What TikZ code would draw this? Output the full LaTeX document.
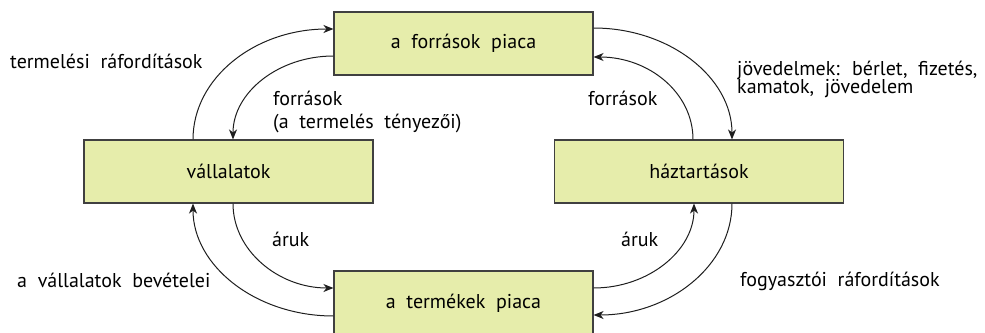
\documentclass[tikz,border=0pt]{standalone}
\usepackage{fontspec}
\setmainfont{PT Sans}[WordSpace=2.0]
\usetikzlibrary{arrows.meta}
\definecolor{boxfill}{HTML}{E6EDAB}
\definecolor{boxline}{HTML}{404040}
\definecolor{arrowcol}{HTML}{1E1E1E}
\tikzset{
  market/.style={draw=boxline, line width=1.1pt, fill=boxfill, minimum width=259pt, minimum height=63pt, inner sep=0pt, font=\fontsize{20}{23}\selectfont},
  agent/.style={draw=boxline, line width=1.1pt, fill=boxfill, minimum width=289pt, minimum height=63pt, inner sep=0pt, font=\fontsize{20}{23}\selectfont},
  flow/.style={draw=arrowcol, line width=1pt, -{Stealth[length=10pt,width=8pt,inset=3pt]}},
  lbl/.style={inner sep=0pt, anchor=base west, font=\fontsize{20}{23}\selectfont},
  lbltwo/.style={inner sep=0pt, anchor=base west, align=left}
}
\begin{document}
\begin{tikzpicture}[x=1pt,y=-1pt]
\useasboundingbox (0,0) rectangle (985,332);
\node[market] (T) at (463.5,43.5) {a források piaca};
\node[market, minimum height=65pt] (B) at (463.5,303.5) {a termékek piaca};
\node[agent] (L) at (228.5,171.5) {vállalatok};
\node[agent] (R) at (699,171.5) {háztartások};
% top-left
\draw[flow] ([xshift=-35.5pt]L.north) .. controls +(0,-62) and +(-78,0) .. ([yshift=14.5pt]T.west);
\draw[flow] ([yshift=-12.5pt]T.west) .. controls +(-55,0) and +(0,-47) .. ([xshift=4.5pt]L.north);
% top-right
\draw[flow] ([yshift=15.5pt]T.east) .. controls +(76,0) and +(0,-62) .. ([xshift=33pt]R.north);
\draw[flow] ([xshift=-6pt]R.north) .. controls +(0,-47) and +(55,0) .. ([yshift=-13.5pt]T.east);
% bottom-left
\draw[flow] ([xshift=4.5pt]L.south) .. controls +(0,47) and +(-55,0) .. ([yshift=15.5pt]B.west);
\draw[flow] ([yshift=-12.5pt]B.west) .. controls +(-78,0) and +(0,62) .. ([xshift=-35.5pt]L.south);
% bottom-right
\draw[flow] ([yshift=15.5pt]B.east) .. controls +(55,0) and +(0,47) .. ([xshift=-5pt]R.south);
\draw[flow] ([xshift=33pt]R.south) .. controls +(0,62) and +(76,0) .. ([yshift=-11.5pt]B.east);
% labels
\node[lbl] (l1) at (10,68) {termelési ráfordítások};
\node[lbltwo, font=\fontsize{20}{23}\selectfont] (l2) at (273,128) {források\\(a termelés tényezői)};
\node[lbl] (l3) at (588,105) {források};
\node[lbltwo, font=\fontsize{20}{18.5}\selectfont] (l4) at (737,93.5) {jövedelmek: bérlet, fizetés,\\kamatok, jövedelem};
\node[lbl] (l5) at (272,246) {áruk};
\node[lbl] (l6) at (621,246) {áruk};
\node[lbl] (l7) at (17,287) {a vállalatok bevételei};
\node[lbl] (l8) at (740,286) {fogyasztói ráfordítások};
\end{tikzpicture}
\end{document}
